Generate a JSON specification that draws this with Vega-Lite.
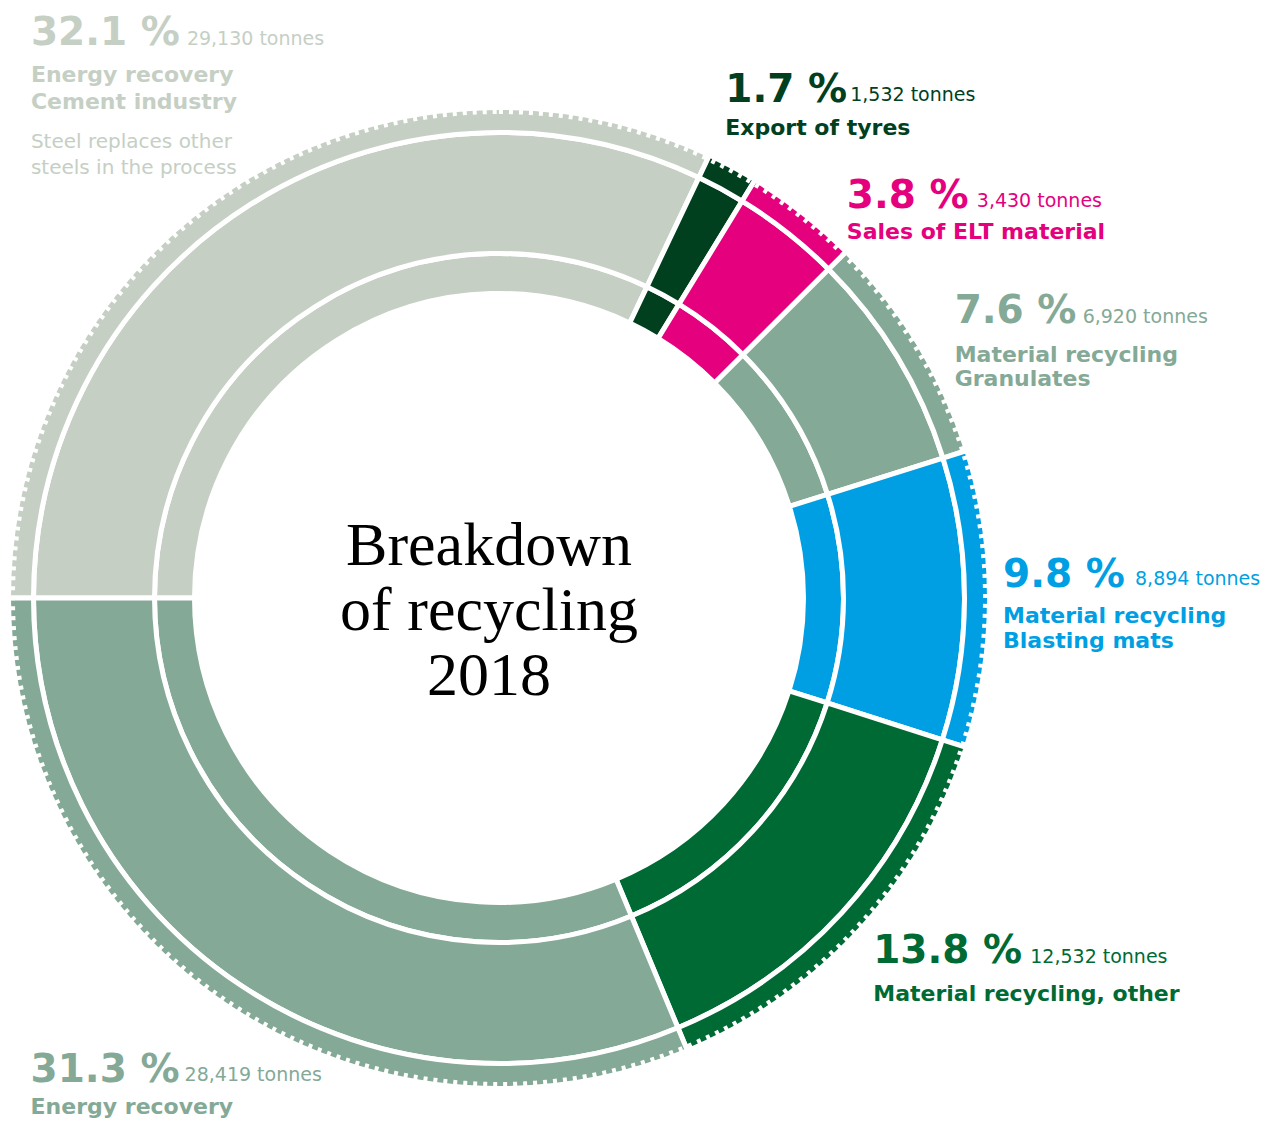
{
  "$schema": "https://vega.github.io/schema/vega-lite/v6.json",
  "width": 998,
  "height": 1054,
  "autosize": {"type": "none"},
  "padding": {"left": 0, "top": 71, "right": 278, "bottom": 0},
  "background": "white",
  "config": {"view": {"stroke": null}},
  "data": {
    "values": [
      {"cat": "Energy recovery, Cement industry", "rank": 1, "tonnes": 29130, "pct": "32.1 %", "tn": "29,130 tonnes", "name": "Energy recovery\nCement industry", "note": "Steel replaces other\nsteels in the process"},
      {"cat": "Export of tyres", "rank": 2, "tonnes": 1532, "pct": "1.7 %", "tn": "1,532 tonnes", "name": "Export of tyres", "note": ""},
      {"cat": "Sales of ELT material", "rank": 3, "tonnes": 3430, "pct": "3.8 %", "tn": "3,430 tonnes", "name": "Sales of ELT material", "note": ""},
      {"cat": "Material recycling, Granulates", "rank": 4, "tonnes": 6920, "pct": "7.6 %", "tn": "6,920 tonnes", "name": "Material recycling\nGranulates", "note": ""},
      {"cat": "Material recycling, Blasting mats", "rank": 5, "tonnes": 8894, "pct": "9.8 %", "tn": "8,894 tonnes", "name": "Material recycling\nBlasting mats", "note": ""},
      {"cat": "Material recycling, other", "rank": 6, "tonnes": 12532, "pct": "13.8 %", "tn": "12,532 tonnes", "name": "Material recycling, other", "note": ""},
      {"cat": "Energy recovery", "rank": 7, "tonnes": 28419, "pct": "31.3 %", "tn": "28,419 tonnes", "name": "Energy recovery", "note": ""}
    ]
  },
  "layer": [
    {
      "encoding": {
        "theta": {"field": "tonnes", "type": "quantitative", "stack": true, "scale": {"range": [4.71238898038469, 10.995574287564276], "nice": false, "zero": true}},
        "order": {"field": "rank", "type": "quantitative"},
        "color": {
          "field": "cat", "type": "nominal", "legend": null,
          "scale": {
            "domain": ["Energy recovery, Cement industry", "Export of tyres", "Sales of ELT material", "Material recycling, Granulates", "Material recycling, Blasting mats", "Material recycling, other", "Energy recovery"],
            "range": ["#c5cfc4", "#00401f", "#e5007e", "#84a996", "#009fe3", "#006a35", "#84a996"]
          }
        }
      },
      "layer": [
        {"mark": {"type": "arc", "radius": 344.5, "radius2": 304.5, "stroke": "white", "strokeWidth": 5}},
        {"mark": {"type": "arc", "radius": 465.5, "radius2": 344.5, "stroke": "white", "strokeWidth": 5}},
        {"mark": {"type": "arc", "radius": 490.5, "radius2": 465.5, "stroke": "white", "strokeWidth": 5}},

        {"mark": {"type": "text", "radius": 500, "align": "left", "baseline": "alphabetic", "font": "DejaVu Sans", "fontSize": 39, "fontWeight": "bold", "dx": -201, "dy": -130},
         "encoding": {"text": {"condition": {"test": "datum.rank === 1", "field": "pct", "type": "nominal"}, "value": ""}}},
        {"mark": {"type": "text", "radius": 500, "align": "left", "baseline": "alphabetic", "font": "DejaVu Sans", "fontSize": 19, "fontWeight": "normal", "dx": -45, "dy": -130},
         "encoding": {"text": {"condition": {"test": "datum.rank === 1", "field": "tn", "type": "nominal"}, "value": ""}}},
        {"mark": {"type": "text", "radius": 500, "align": "left", "baseline": "alphabetic", "font": "DejaVu Sans", "fontSize": 22, "fontWeight": "bold", "lineBreak": "\n", "lineHeight": 26.5, "dx": -201, "dy": -93},
         "encoding": {"text": {"condition": {"test": "datum.rank === 1", "field": "name", "type": "nominal"}, "value": ""}}},
        {"mark": {"type": "text", "radius": 500, "align": "left", "baseline": "alphabetic", "font": "DejaVu Sans", "fontSize": 20, "fontWeight": "normal", "lineBreak": "\n", "lineHeight": 26, "dx": -201, "dy": -27},
         "encoding": {"text": {"condition": {"test": "datum.rank === 1", "field": "note", "type": "nominal"}, "value": ""}}},

        {"mark": {"type": "text", "radius": 500, "align": "left", "baseline": "alphabetic", "font": "DejaVu Sans", "fontSize": 39, "fontWeight": "bold", "dx": -12, "dy": -56},
         "encoding": {"text": {"condition": {"test": "datum.rank === 2", "field": "pct", "type": "nominal"}, "value": ""}}},
        {"mark": {"type": "text", "radius": 500, "align": "left", "baseline": "alphabetic", "font": "DejaVu Sans", "fontSize": 19, "fontWeight": "normal", "dx": 113, "dy": -57},
         "encoding": {"text": {"condition": {"test": "datum.rank === 2", "field": "tn", "type": "nominal"}, "value": ""}}},
        {"mark": {"type": "text", "radius": 500, "align": "left", "baseline": "alphabetic", "font": "DejaVu Sans", "fontSize": 22, "fontWeight": "bold", "lineBreak": "\n", "lineHeight": 26, "dx": -12, "dy": -23},
         "encoding": {"text": {"condition": {"test": "datum.rank === 2", "field": "name", "type": "nominal"}, "value": ""}}},

        {"mark": {"type": "text", "radius": 500, "align": "left", "baseline": "alphabetic", "font": "DejaVu Sans", "fontSize": 39, "fontWeight": "bold", "dx": 38, "dy": 2},
         "encoding": {"text": {"condition": {"test": "datum.rank === 3", "field": "pct", "type": "nominal"}, "value": ""}}},
        {"mark": {"type": "text", "radius": 500, "align": "left", "baseline": "alphabetic", "font": "DejaVu Sans", "fontSize": 19, "fontWeight": "normal", "dx": 168, "dy": 1},
         "encoding": {"text": {"condition": {"test": "datum.rank === 3", "field": "tn", "type": "nominal"}, "value": ""}}},
        {"mark": {"type": "text", "radius": 500, "align": "left", "baseline": "alphabetic", "font": "DejaVu Sans", "fontSize": 22, "fontWeight": "bold", "lineBreak": "\n", "lineHeight": 26, "dx": 38, "dy": 33},
         "encoding": {"text": {"condition": {"test": "datum.rank === 3", "field": "name", "type": "nominal"}, "value": ""}}},

        {"mark": {"type": "text", "radius": 500, "align": "left", "baseline": "alphabetic", "font": "DejaVu Sans", "fontSize": 39, "fontWeight": "bold", "dx": 28, "dy": -16},
         "encoding": {"text": {"condition": {"test": "datum.rank === 4", "field": "pct", "type": "nominal"}, "value": ""}}},
        {"mark": {"type": "text", "radius": 500, "align": "left", "baseline": "alphabetic", "font": "DejaVu Sans", "fontSize": 19, "fontWeight": "normal", "dx": 156, "dy": -16},
         "encoding": {"text": {"condition": {"test": "datum.rank === 4", "field": "tn", "type": "nominal"}, "value": ""}}},
        {"mark": {"type": "text", "radius": 500, "align": "left", "baseline": "alphabetic", "font": "DejaVu Sans", "fontSize": 22, "fontWeight": "bold", "lineBreak": "\n", "lineHeight": 24.5, "dx": 28, "dy": 23},
         "encoding": {"text": {"condition": {"test": "datum.rank === 4", "field": "name", "type": "nominal"}, "value": ""}}},

        {"mark": {"type": "text", "radius": 500, "align": "left", "baseline": "alphabetic", "font": "DejaVu Sans", "fontSize": 39, "fontWeight": "bold", "dx": 4, "dy": -12},
         "encoding": {"text": {"condition": {"test": "datum.rank === 5", "field": "pct", "type": "nominal"}, "value": ""}}},
        {"mark": {"type": "text", "radius": 500, "align": "left", "baseline": "alphabetic", "font": "DejaVu Sans", "fontSize": 19, "fontWeight": "normal", "dx": 136, "dy": -14},
         "encoding": {"text": {"condition": {"test": "datum.rank === 5", "field": "tn", "type": "nominal"}, "value": ""}}},
        {"mark": {"type": "text", "radius": 500, "align": "left", "baseline": "alphabetic", "font": "DejaVu Sans", "fontSize": 22, "fontWeight": "bold", "lineBreak": "\n", "lineHeight": 25, "dx": 4, "dy": 24},
         "encoding": {"text": {"condition": {"test": "datum.rank === 5", "field": "name", "type": "nominal"}, "value": ""}}},

        {"mark": {"type": "text", "radius": 500, "align": "left", "baseline": "alphabetic", "font": "DejaVu Sans", "fontSize": 39, "fontWeight": "bold", "dx": 6, "dy": 27},
         "encoding": {"text": {"condition": {"test": "datum.rank === 6", "field": "pct", "type": "nominal"}, "value": ""}}},
        {"mark": {"type": "text", "radius": 500, "align": "left", "baseline": "alphabetic", "font": "DejaVu Sans", "fontSize": 19, "fontWeight": "normal", "dx": 163, "dy": 27},
         "encoding": {"text": {"condition": {"test": "datum.rank === 6", "field": "tn", "type": "nominal"}, "value": ""}}},
        {"mark": {"type": "text", "radius": 500, "align": "left", "baseline": "alphabetic", "font": "DejaVu Sans", "fontSize": 22, "fontWeight": "bold", "lineBreak": "\n", "lineHeight": 26, "dx": 6, "dy": 65},
         "encoding": {"text": {"condition": {"test": "datum.rank === 6", "field": "name", "type": "nominal"}, "value": ""}}},

        {"mark": {"type": "text", "radius": 500, "align": "left", "baseline": "alphabetic", "font": "DejaVu Sans", "fontSize": 39, "fontWeight": "bold", "dx": -191, "dy": 68},
         "encoding": {"text": {"condition": {"test": "datum.rank === 7", "field": "pct", "type": "nominal"}, "value": ""}}},
        {"mark": {"type": "text", "radius": 500, "align": "left", "baseline": "alphabetic", "font": "DejaVu Sans", "fontSize": 19, "fontWeight": "normal", "dx": -37, "dy": 67},
         "encoding": {"text": {"condition": {"test": "datum.rank === 7", "field": "tn", "type": "nominal"}, "value": ""}}},
        {"mark": {"type": "text", "radius": 500, "align": "left", "baseline": "alphabetic", "font": "DejaVu Sans", "fontSize": 22, "fontWeight": "bold", "lineBreak": "\n", "lineHeight": 26, "dx": -191, "dy": 100},
         "encoding": {"text": {"condition": {"test": "datum.rank === 7", "field": "name", "type": "nominal"}, "value": ""}}}
      ]
    },
    {
      "transform": [{"aggregate": [{"op": "count", "as": "n"}]}],
      "mark": {"type": "arc", "theta": 0, "theta2": {"expr": "2*PI"}, "radius": 486.5, "radius2": 0, "fill": "transparent", "stroke": "white", "strokeWidth": 5, "strokeDash": [4, 6]},
      "encoding": {}
    },
    {
      "transform": [{"aggregate": [{"op": "count", "as": "n"}]}],
      "mark": {"type": "text", "align": "center", "baseline": "alphabetic", "font": "Liberation Serif", "fontSize": 62, "lineHeight": 65, "color": "#000000", "dx": -10, "dy": -33},
      "encoding": {"text": {"value": ["Breakdown", "of recycling", "2018"]}}
    }
  ]
}
